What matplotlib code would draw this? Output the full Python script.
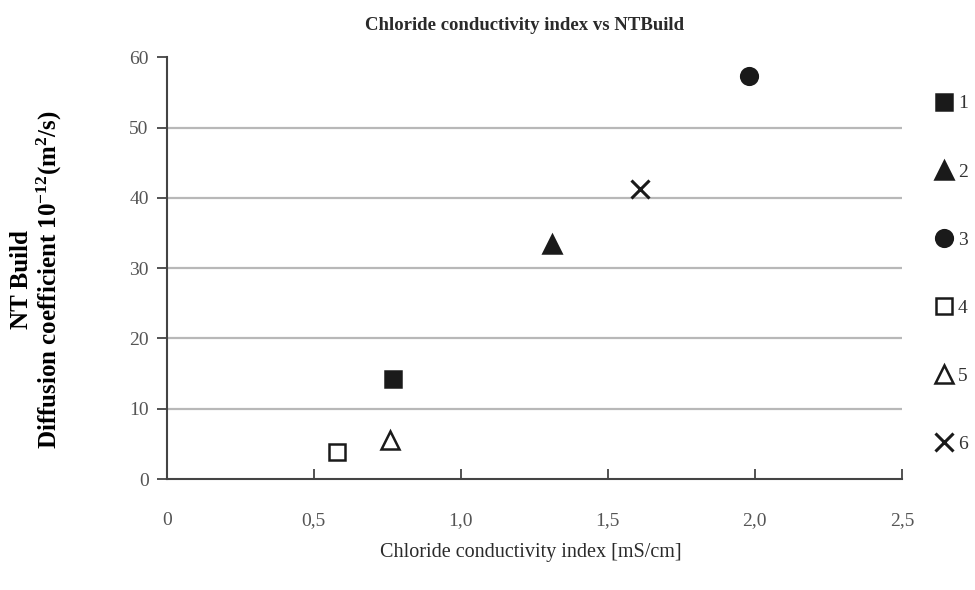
import matplotlib
matplotlib.use("Agg")
import matplotlib.pyplot as plt

plt.rcParams['font.family'] = ['Liberation Serif', 'DejaVu Serif']
plt.rcParams['mathtext.fontset'] = 'custom'
plt.rcParams['mathtext.rm'] = 'Liberation Serif:bold'
plt.rcParams['mathtext.default'] = 'rm'

# chloride conductivity index [mS/cm] and NT Build diffusion coefficient per mix
labels = ['1', '2', '3', '4', '5', '6']
cci = [0.77, 1.31, 1.98, 0.58, 0.76, 1.61]
dnt = [14.3, 33.5, 57.3, 3.9, 5.5, 41.3]

markers = ['s', '^', 'o', 's', '^', 'x']
filled = [True, True, True, False, False, True]
sizes = [11, 13, 12, 11, 13, 13]

xticks = [0, 0.5, 1.0, 1.5, 2.0, 2.5]
xtick_labels = ['0', '0,5', '1,0', '1,5', '2,0', '2,5']
yticks = [0, 10, 20, 30, 40, 50, 60]

fig = plt.figure(figsize=(9.75, 5.9), dpi=100)
ax = fig.add_axes([0.171, 0.188, 0.754, 0.715])

handles = []
for lab, x, y, m, f, s in zip(labels, cci, dnt, markers, filled, sizes):
    face = '#1a1a1a' if f else 'white'
    mew = 2.2 if m == 'x' else 1.8
    h, = ax.plot(x, y, linestyle='none', marker=m, markersize=s,
                 markerfacecolor=face, markeredgecolor='#1a1a1a',
                 markeredgewidth=mew, label=lab, zorder=3)
    handles.append(h)

ax.set_xlim(0, 2.5)
ax.set_ylim(0, 60)
ax.set_xticks(xticks)
ax.set_xticklabels(xtick_labels)
ax.set_yticks(yticks)

for g in yticks[1:-1]:
    ax.axhline(g, color='#b8b8b8', linewidth=1.6, zorder=1)

for side in ['top', 'right']:
    ax.spines[side].set_visible(False)
for side in ['left', 'bottom']:
    ax.spines[side].set_color('#444444')
    ax.spines[side].set_linewidth(1.5)

ax.tick_params(axis='both', colors='#444444', labelcolor='#555555',
               labelsize=14, length=7, width=1.3)
ax.tick_params(axis='x', direction='in', pad=24)
ax.tick_params(axis='y', direction='out', pad=6)

fig.text(525 / 975, 1 - 25 / 590, 'Chloride conductivity index vs NTBuild',
         ha='center', va='center', fontsize=13.5, fontweight='bold', color='#2a2a2a')
fig.text(531 / 975, 1 - 553 / 590, 'Chloride conductivity index [mS/cm]',
         ha='center', va='center', fontsize=14.5, color='#2a2a2a')
fig.text(37 / 975, 1 - 280 / 590,
         'NT Build\nDiffusion coefficient 10$^{-12}$(m$^{2}$/s)',
         ha='center', va='center', rotation=90, fontsize=18, fontweight='bold',
         linespacing=1.1, color='black')

fig.legend(handles=handles, loc='upper left', bbox_to_anchor=(925 / 975, 1 - 87 / 590),
           frameon=False, fontsize=14, labelspacing=2.6, handletextpad=0.1,
           handlelength=1.2, borderaxespad=0, labelcolor='#333333')

fig.savefig('out.png', dpi=100)
